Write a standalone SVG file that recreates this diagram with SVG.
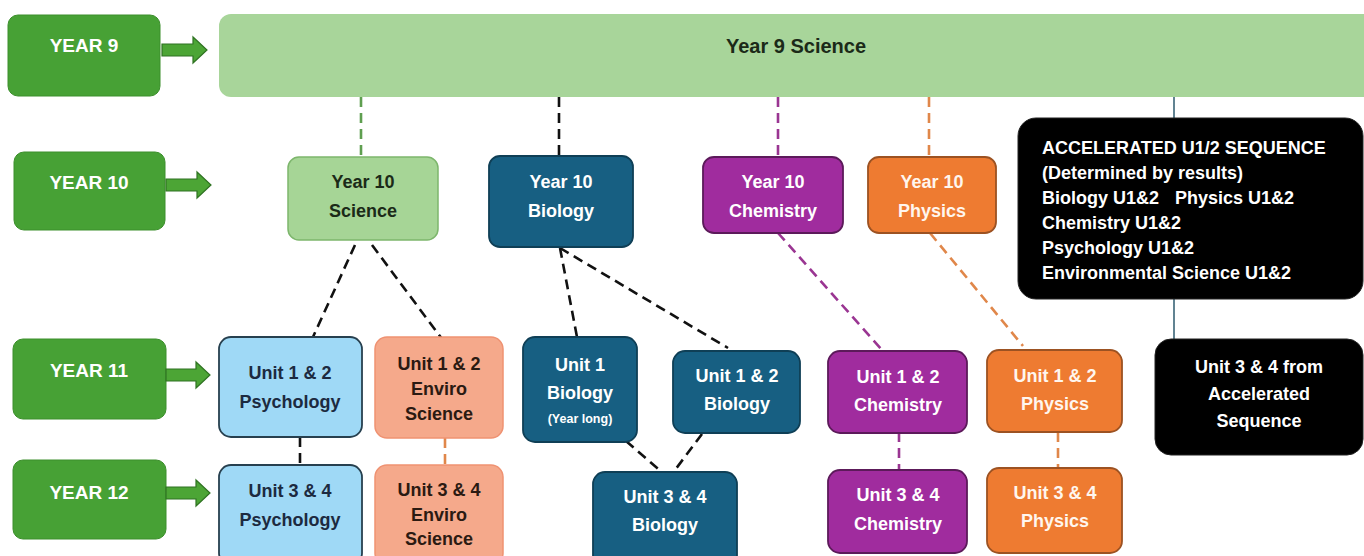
<svg xmlns="http://www.w3.org/2000/svg" width="1364" height="556" viewBox="0 0 1364 556">
<defs>
<style>
text{font-family:"Liberation Sans",Arial,sans-serif;font-weight:bold;text-anchor:middle}
.yr rect{fill:#47a135;stroke:#3c8f2c;stroke-width:1}
.yr text{fill:#ffffff;font-size:19px}
.arr{fill:#4ca535;stroke:#2f7322;stroke-width:1.2}
.t18{font-size:18px}
.dash{fill:none;stroke-width:2.6;stroke-dasharray:10 6}
.blk{stroke:#111}
.grn{stroke:#5f9f50}
.pur{stroke:#9a3592}
.org{stroke:#e0874a}
.sci rect{fill:#a6d596;stroke:#7db66c;stroke-width:1.5}
.sci text{fill:#1b2a18}
.psy rect{fill:#9fd9f6;stroke:#27404f;stroke-width:1.8}
.psy text{fill:#1c2a40}
.env rect{fill:#f5a98b;stroke:#ef9272;stroke-width:1.5}
.env text{fill:#2b1a12}
.bio rect{fill:#175f82;stroke:#0f3f56;stroke-width:1.8}
.bio text{fill:#ffffff}
.che rect{fill:#a02c9e;stroke:#5c1a5a;stroke-width:1.8}
.che text{fill:#ffffff}
.phy rect{fill:#ee7b31;stroke:#9c5222;stroke-width:1.8}
.phy text{fill:#fff6ee}
.acc rect{fill:#000000;stroke:#222;stroke-width:1}
.acc text{fill:#ffffff;font-size:18px}
</style>
</defs>
<rect width="1364" height="556" fill="#ffffff"/>

<!-- Year labels -->
<g id="year9" class="yr"><rect x="8" y="15" width="152" height="81" rx="10"/><text x="84" y="52">YEAR 9</text></g>
<g id="year10" class="yr"><rect x="14" y="152" width="151" height="78" rx="10"/><text x="89" y="189">YEAR 10</text></g>
<g id="year11" class="yr"><rect x="13" y="339" width="153" height="80" rx="10"/><text x="89" y="377">YEAR 11</text></g>
<g id="year12" class="yr"><rect x="13" y="460" width="153" height="79" rx="10"/><text x="89" y="499">YEAR 12</text></g>

<!-- Block arrows -->
<g id="arrows">
<path class="arr" d="M162,44 H193 V37 L207,50 L193,63 V56 H162 Z"/>
<path class="arr" d="M166,179 H197 V172 L211,185 L197,198 V191 H166 Z"/>
<path class="arr" d="M166,369 H196 V362 L210,375 L196,388 V381 H166 Z"/>
<path class="arr" d="M166,487 H196 V480 L210,493 L196,506 V499 H166 Z"/>
</g>

<!-- Connectors -->
<g id="connectors">
<line class="dash grn" x1="361" y1="97" x2="361" y2="157"/>
<line class="dash blk" x1="559" y1="97" x2="559" y2="156"/>
<line class="dash pur" x1="778" y1="97" x2="778" y2="157"/>
<line class="dash org" x1="929" y1="97" x2="929" y2="157"/>
<line class="dash blk" x1="355" y1="245" x2="313" y2="337"/>
<line class="dash blk" x1="372" y1="245" x2="445" y2="343"/>
<line class="dash blk" x1="560" y1="248" x2="577" y2="337"/>
<line class="dash blk" x1="560" y1="248" x2="728" y2="348"/>
<line class="dash pur" x1="778" y1="233" x2="882" y2="350"/>
<line class="dash org" x1="930" y1="233" x2="1023" y2="346"/>
<line class="dash blk" x1="300" y1="437" x2="300" y2="465"/>
<line class="dash org" x1="445" y1="438" x2="445" y2="465"/>
<line class="dash blk" x1="626" y1="441" x2="664" y2="474"/>
<line class="dash blk" x1="702" y1="434" x2="672" y2="474"/>
<line class="dash pur" x1="899" y1="432" x2="899" y2="470"/>
<line class="dash org" x1="1058" y1="432" x2="1058" y2="468"/>
<line x1="1174" y1="97" x2="1174" y2="119" stroke="#2d5a6e" stroke-width="1.5"/>
<line x1="1174" y1="298" x2="1174" y2="340" stroke="#2d5a6e" stroke-width="1.5"/>
</g>

<!-- Year 9 Science -->
<g id="year9science" class="sci"><rect x="219" y="14" width="1165" height="83" rx="12" style="stroke:none;fill:#a8d59a"/><text x="796" y="53" style="font-size:20px">Year 9 Science</text></g>

<!-- Year 10 -->
<g id="y10science" class="sci"><rect x="288" y="157" width="150" height="83" rx="11"/><text class="t18" x="363" y="188">Year 10</text><text class="t18" x="363" y="217">Science</text></g>
<g id="y10biology" class="bio"><rect x="489" y="156" width="144" height="91" rx="11"/><text class="t18" x="561" y="188">Year 10</text><text class="t18" x="561" y="217">Biology</text></g>
<g id="y10chemistry" class="che"><rect x="703" y="157" width="140" height="76" rx="11"/><text class="t18" x="773" y="188">Year 10</text><text class="t18" x="773" y="217">Chemistry</text></g>
<g id="y10physics" class="phy"><rect x="868" y="157" width="128" height="76" rx="11"/><text class="t18" x="932" y="188">Year 10</text><text class="t18" x="932" y="217">Physics</text></g>

<!-- Year 11 -->
<g id="u12psychology" class="psy"><rect x="219" y="337" width="143" height="100" rx="12"/><text class="t18" x="290" y="379">Unit 1 &amp; 2</text><text class="t18" x="290" y="408">Psychology</text></g>
<g id="u12enviro" class="env"><rect x="375" y="337" width="128" height="101" rx="12"/><text class="t18" x="439" y="370">Unit 1 &amp; 2</text><text class="t18" x="439" y="395">Enviro</text><text class="t18" x="439" y="420">Science</text></g>
<g id="u1biology" class="bio"><rect x="523" y="337" width="114" height="105" rx="12"/><text class="t18" x="580" y="371">Unit 1</text><text class="t18" x="580" y="399">Biology</text><text x="580" y="423" style="font-size:12.5px">(Year long)</text></g>
<g id="u12biology" class="bio"><rect x="673" y="351" width="127" height="82" rx="12"/><text class="t18" x="737" y="382">Unit 1 &amp; 2</text><text class="t18" x="737" y="410">Biology</text></g>
<g id="u12chemistry" class="che"><rect x="828" y="351" width="139" height="82" rx="12"/><text class="t18" x="898" y="383">Unit 1 &amp; 2</text><text class="t18" x="898" y="411">Chemistry</text></g>
<g id="u12physics" class="phy"><rect x="987" y="350" width="135" height="82" rx="12"/><text class="t18" x="1055" y="382">Unit 1 &amp; 2</text><text class="t18" x="1055" y="410">Physics</text></g>

<!-- Year 12 -->
<g id="u34psychology" class="psy"><rect x="219" y="465" width="143" height="100" rx="12"/><text class="t18" x="290" y="497">Unit 3 &amp; 4</text><text class="t18" x="290" y="526">Psychology</text></g>
<g id="u34enviro" class="env"><rect x="375" y="465" width="128" height="100" rx="12"/><text class="t18" x="439" y="496">Unit 3 &amp; 4</text><text class="t18" x="439" y="521">Enviro</text><text class="t18" x="439" y="545">Science</text></g>
<g id="u34biology" class="bio"><rect x="593" y="472" width="144" height="95" rx="12"/><text class="t18" x="665" y="503">Unit 3 &amp; 4</text><text class="t18" x="665" y="531">Biology</text></g>
<g id="u34chemistry" class="che"><rect x="828" y="470" width="139" height="83" rx="12"/><text class="t18" x="898" y="501">Unit 3 &amp; 4</text><text class="t18" x="898" y="530">Chemistry</text></g>
<g id="u34physics" class="phy"><rect x="987" y="468" width="135" height="85" rx="12"/><text class="t18" x="1055" y="499">Unit 3 &amp; 4</text><text class="t18" x="1055" y="527">Physics</text></g>

<!-- Accelerated -->
<g id="accelerated" class="acc"><rect x="1018" y="118" width="345" height="181" rx="18"/>
<text style="text-anchor:start" x="1042" y="154">ACCELERATED U1/2 SEQUENCE</text>
<text style="text-anchor:start" x="1042" y="179">(Determined by results)</text>
<text style="text-anchor:start" x="1042" y="204">Biology U1&amp;2<tspan x="1175">Physics U1&amp;2</tspan></text>
<text style="text-anchor:start" x="1042" y="229">Chemistry U1&amp;2</text>
<text style="text-anchor:start" x="1042" y="254">Psychology U1&amp;2</text>
<text style="text-anchor:start" x="1042" y="279">Environmental Science U1&amp;2</text>
</g>
<g id="u34accelerated" class="acc"><rect x="1155" y="339" width="208" height="116" rx="16"/><text x="1259" y="373">Unit 3 &amp; 4 from</text><text x="1259" y="400">Accelerated</text><text x="1259" y="427">Sequence</text></g>
</svg>
